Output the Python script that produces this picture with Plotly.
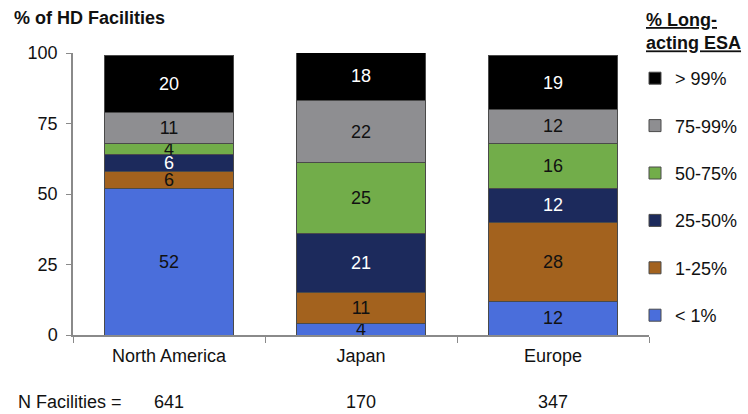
import plotly.graph_objects as go

regions = ["North America", "Japan", "Europe"]
n_facilities = ["641", "170", "347"]
categories = ["< 1%", "1-25%", "25-50%", "50-75%", "75-99%", "> 99%"]
values = {
    "< 1%":   [52, 4, 12],
    "1-25%":  [6, 11, 28],
    "25-50%": [6, 21, 12],
    "50-75%": [4, 25, 16],
    "75-99%": [11, 22, 12],
    "> 99%":  [20, 18, 19],
}
colors = {
    "< 1%": "#4a6edb",
    "1-25%": "#a3621e",
    "25-50%": "#1c2a5c",
    "50-75%": "#72ad4a",
    "75-99%": "#8e8e91",
    "> 99%": "#000000",
}
text_colors = {
    "< 1%": "#111111",
    "1-25%": "#111111",
    "25-50%": "#ffffff",
    "50-75%": "#111111",
    "75-99%": "#111111",
    "> 99%": "#ffffff",
}
y_ticks = [0, 25, 50, 75, 100]

FONT = "Liberation Sans, Arial, sans-serif"

fig = go.Figure()
for i, cat in enumerate(categories):
    fig.add_trace(go.Bar(
        x=regions, y=values[cat], name=cat,
        marker=dict(color=colors[cat], line=dict(color="#4a4a4a", width=1)),
        text=[str(v) for v in values[cat]],
        textposition="inside", insidetextanchor="middle",
        constraintext="none", textangle=0,
        textfont=dict(family=FONT, size=18, color=text_colors[cat]),
        legendgroup=cat, legendrank=len(categories) - i, hoverinfo="skip",
    ))

fig.update_layout(
    width=748, height=414,
    margin=dict(l=73, r=99, t=53, b=79, autoexpand=False),
    barmode="stack", bargap=0.333,
    plot_bgcolor="white", paper_bgcolor="white",
    font=dict(family=FONT, size=18, color="#111111"),
    showlegend=True,
    legend=dict(
        x=(635 - 73) / 576, xanchor="left", y=(335 - 60) / 282, yanchor="top",
        traceorder="grouped", tracegroupgap=21,
        itemwidth=30, font=dict(family=FONT, size=18, color="#111111"),
        bgcolor="rgba(0,0,0,0)",
    ),
    xaxis=dict(
        type="category", tickson="boundaries", ticks="outside", ticklen=6,
        tickcolor="#8a8a8a", showline=True, linecolor="#8a8a8a", linewidth=1.5,
        showgrid=False, tickfont=dict(family=FONT, size=18, color="#111111"),
        ticklabelstandoff=4,
    ),
    yaxis=dict(
        range=[0, 100], tickvals=y_ticks, ticks="outside", ticklen=5,
        tickcolor="#8a8a8a", showline=True, linecolor="#8a8a8a", linewidth=1.5,
        showgrid=False, zeroline=False, ticklabelstandoff=5,
        tickfont=dict(family=FONT, size=18, color="#111111"),
    ),
)

annotations = [
    dict(text="<b>% of HD Facilities</b>", xref="paper", yref="paper",
         x=(12 - 73) / 576, y=(335 - 6) / 282, xanchor="left", yanchor="top",
         showarrow=False, font=dict(family=FONT, size=18, color="#111111")),
    dict(text="<b><u>% Long-</u></b><br><b><u>acting ESA</u></b>", xref="paper", yref="paper",
         x=(644 - 73) / 576, y=(335 - 8) / 282, xanchor="left", yanchor="top",
         align="left", showarrow=False,
         font=dict(family=FONT, size=18, color="#111111")),
    dict(text="N Facilities =", xref="paper", yref="paper",
         x=(16 - 73) / 576, y=(335 - 402) / 282, xanchor="left", yanchor="middle",
         showarrow=False, font=dict(family=FONT, size=18, color="#111111")),
]
for r, n in zip(regions, n_facilities):
    annotations.append(dict(text=n, xref="x", yref="paper", x=r,
                            y=(335 - 402) / 282, xanchor="center", yanchor="middle",
                            showarrow=False,
                            font=dict(family=FONT, size=18, color="#111111")))
fig.update_layout(annotations=annotations)

fig.write_html("out.html")
